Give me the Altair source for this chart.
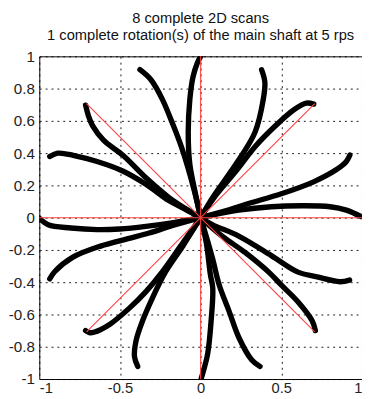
import altair as alt
import pandas as pd

# ---- data (one list per scan arm, centre -> rim) ----
arm_x = [
    [0, 0.075, 0.236, 0.438, 0.64, 0.802, 0.903, 0.994],                 # 0 deg
    [0, 0.115, 0.297, 0.5, 0.7, 0.842, 0.903, 0.925],                    # 22.5
    [0, 0.08, 0.22, 0.337, 0.459, 0.58, 0.655, 0.701],                   # 45
    [0, 0.075, 0.216, 0.337, 0.388, 0.398, 0.378],                       # 67.5
    [0, -0.036, -0.067, -0.077, -0.067, -0.047, -0.02, 0.0],             # 90
    [0, -0.04, -0.117, -0.178, -0.238, -0.309, -0.376],                  # 112.5
    [0, -0.1, -0.198, -0.339, -0.48, -0.602, -0.67, -0.695, -0.713],     # 135
    [0, -0.1, -0.198, -0.339, -0.48, -0.642, -0.784, -0.885, -0.935],    # 157.5
    [0, -0.158, -0.339, -0.501, -0.642, -0.804, -0.945, -1.0],           # 180
    [0, -0.178, -0.319, -0.45, -0.62, -0.794, -0.905, -0.935],           # 202.5
    [0, -0.12, -0.238, -0.339, -0.44, -0.562, -0.662, -0.69, -0.713],    # 225
    [0, -0.11, -0.218, -0.299, -0.36, -0.4, -0.41, -0.39],               # 247.5
    [0, 0.035, 0.06, 0.075, 0.065, 0.044, 0.02, 0.004],                  # 270
    [0, 0.035, 0.075, 0.115, 0.176, 0.236, 0.317, 0.368],                # 292.5
    [0, 0.135, 0.277, 0.43, 0.499, 0.6, 0.691, 0.711],                   # 315
    [0, 0.075, 0.236, 0.438, 0.6, 0.721, 0.863, 0.923],                  # 337.5
]
arm_y = [
    [0, 0.017, 0.047, 0.068, 0.074, 0.068, 0.047, 0.007],
    [0, 0.031, 0.088, 0.148, 0.222, 0.298, 0.348, 0.388],
    [0, 0.12, 0.29, 0.44, 0.565, 0.67, 0.71, 0.704],
    [0, 0.126, 0.328, 0.53, 0.732, 0.84, 0.916],
    [0, 0.167, 0.33, 0.53, 0.732, 0.874, 0.96, 1.0],
    [0, 0.17, 0.432, 0.593, 0.735, 0.856, 0.917],
    [0, 0.06, 0.126, 0.247, 0.385, 0.48, 0.57, 0.63, 0.697],
    [0, 0.055, 0.106, 0.207, 0.288, 0.348, 0.385, 0.4, 0.379],
    [0, -0.029, -0.054, -0.07, -0.074, -0.064, -0.044, -0.003],
    [0, -0.05, -0.095, -0.13, -0.176, -0.246, -0.335, -0.379],
    [0, -0.17, -0.336, -0.458, -0.559, -0.66, -0.71, -0.712, -0.70],
    [0, -0.175, -0.336, -0.498, -0.639, -0.761, -0.862, -0.922],
    [0, -0.156, -0.35, -0.437, -0.639, -0.841, -0.94, -0.995],
    [0, -0.116, -0.258, -0.417, -0.579, -0.741, -0.882, -0.922],
    [0, -0.116, -0.217, -0.345, -0.417, -0.518, -0.639, -0.70],
    [0, -0.044, -0.114, -0.235, -0.336, -0.367, -0.397, -0.387],
]
# red reference rays: end points
ray_x = [1, 0.7071, 0, -0.7071, -1, -0.7071, 0, 0.7071]
ray_y = [0, 0.7071, 1, 0.7071, 0, -0.7071, -1, -0.7071]

x_ticks = [-1, -0.5, 0, 0.5, 1]
y_ticks = [-1, -0.8, -0.6, -0.4, -0.2, 0, 0.2, 0.4, 0.6, 0.8, 1]
title_lines = ["8 complete 2D scans", "1 complete rotation(s) of the main shaft at 5 rps"]

rows = []
for a, (xs, ys) in enumerate(zip(arm_x, arm_y)):
    for i, (xv, yv) in enumerate(zip(xs, ys)):
        rows.append({"arm": a, "seq": i, "x": xv, "y": yv})
arms = pd.DataFrame(rows)
rays = pd.DataFrame({"x0": [0] * len(ray_x), "y0": [0] * len(ray_y), "x1": ray_x, "y1": ray_y})

FONT = "Liberation Sans"
label_expr = "replace(format(datum.value, '~g'), '\u2212', '-')"
xscale = alt.Scale(domain=[-1, 1], nice=False, zero=False)
yscale = alt.Scale(domain=[-1, 1], nice=False, zero=False)
xaxis = alt.Axis(values=x_ticks, title=None, grid=True, ticks=False, domain=False,
                 labelExpr=label_expr, labelPadding=2, labelOverlap=False,
                 labelFont=FONT, labelFontSize=15, labelColor="#222222",
                 gridColor="#000000", gridOpacity=0.9, gridDash=[2, 4], gridWidth=1)
yaxis = alt.Axis(values=y_ticks, title=None, grid=True, ticks=False, domain=False,
                 labelExpr=label_expr, labelPadding=5, labelOverlap=False,
                 labelFont=FONT, labelFontSize=15.5, labelColor="#222222",
                 gridColor="#000000", gridOpacity=0.9, gridDash=[2, 4], gridWidth=1)

black = alt.Chart(arms).mark_line(
    color="black", strokeWidth=5.5, strokeCap="round", strokeJoin="round",
    interpolate="catmull-rom", clip=True
).encode(
    x=alt.X("x:Q", scale=xscale, axis=xaxis),
    y=alt.Y("y:Q", scale=yscale, axis=yaxis),
    detail="arm:N",
    order="seq:Q",
)

red = alt.Chart(rays).mark_rule(color="#ff4040", strokeWidth=1.1).encode(
    x=alt.X("x0:Q", scale=xscale, axis=xaxis),
    y=alt.Y("y0:Q", scale=yscale, axis=yaxis),
    x2="x1:Q",
    y2="y1:Q",
)

chart = alt.layer(black, red).properties(
    width=330,
    height=330,
    title=alt.TitleParams(text=title_lines, font=FONT, fontSize=15, fontWeight="normal",
                          color="#111111", anchor="middle", frame="group", offset=7, lineHeight=17),
    autosize=alt.AutoSizeParams(type="none"),
    padding={"left": 32, "top": 45, "right": 0, "bottom": 16},
).configure_view(stroke="#000000", strokeWidth=1)

chart.save("out.html", embed_options={"renderer": "svg", "actions": False})
